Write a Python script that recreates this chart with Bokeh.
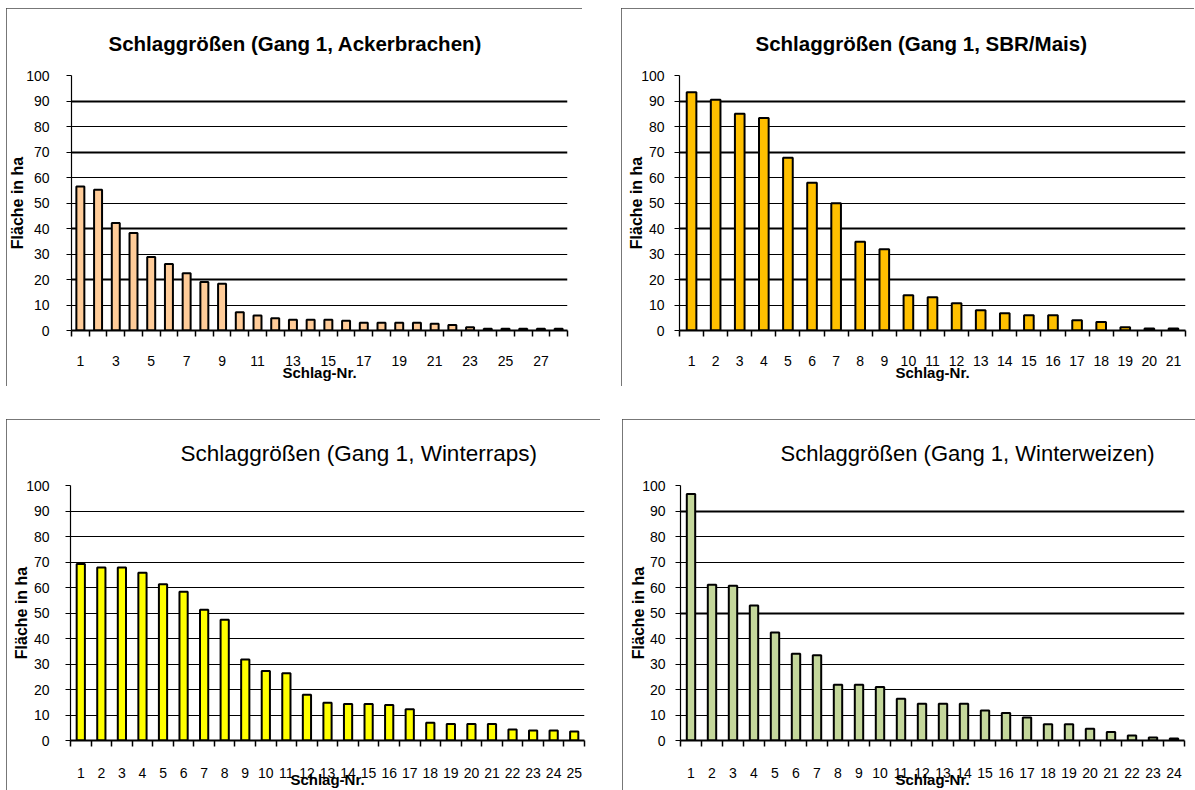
from bokeh.plotting import figure
from bokeh.layouts import column, row, Spacer
from bokeh.models import FixedTicker, Grid
from bokeh.embed import file_html
from bokeh.resources import INLINE

# ---------------- data ----------------
ack_title = "Schlaggrößen (Gang 1, Ackerbrachen)"
ack_values = [56.5, 55.2, 42.2, 38.2, 28.8, 26.1, 22.5, 19.0, 18.3, 7.2, 5.9, 4.8, 4.2, 4.2,
              4.2, 3.8, 3.0, 3.0, 3.0, 3.0, 2.6, 2.2, 1.3, 0.7, 0.7, 0.7, 0.7, 0.7]
ack_tick_labels = [1, 3, 5, 7, 9, 11, 13, 15, 17, 19, 21, 23, 25, 27]

sbr_title = "Schlaggrößen (Gang 1, SBR/Mais)"
sbr_values = [93.4, 90.5, 85.0, 83.3, 67.7, 57.9, 49.9, 34.8, 31.9, 13.8, 13.0, 10.7, 7.9, 6.8,
              6.0, 6.0, 4.0, 3.3, 1.3, 0.8, 0.8]
sbr_tick_labels = list(range(1, 22))

raps_title = "Schlaggrößen (Gang 1, Winterraps)"
raps_values = [69.2, 67.8, 67.8, 65.8, 61.3, 58.3, 51.3, 47.4, 31.8, 27.3, 26.4, 17.9, 14.8,
               14.3, 14.3, 13.9, 12.3, 7.0, 6.5, 6.5, 6.5, 4.3, 3.9, 3.9, 3.5]
raps_tick_labels = list(range(1, 26))

weizen_title = "Schlaggrößen (Gang 1, Winterweizen)"
weizen_values = [96.7, 61.1, 60.7, 52.9, 42.4, 34.0, 33.4, 21.9, 21.9, 21.0, 16.4, 14.4, 14.4,
                 14.4, 11.8, 10.8, 9.0, 6.4, 6.4, 4.6, 3.3, 2.0, 1.2, 0.8]
weizen_tick_labels = list(range(1, 25))

y_label = "Fläche in ha"
x_label = "Schlag-Nr."
y_ticks = [0, 10, 20, 30, 40, 50, 60, 70, 80, 90, 100]

FONT = "Liberation Sans"


def make_panel(title, values, tick_labels, color, width, height, borders,
               title_bold, title_size, title_offset, title_standoff,
               bar_width, thin_grid, thick_grid,
               y_std, y_lab_std, x_std, x_lab_std):
    n = len(values)
    nr = list(range(1, n + 1))
    left, right, top, bottom = borders
    p = figure(width=width, height=height, x_range=(0.5, n + 0.5), y_range=(0, 100),
               output_backend="svg", toolbar_location=None,
               min_border_left=left, min_border_right=right,
               min_border_top=top, min_border_bottom=bottom)
    p.title.text = title
    p.title.align = "left"
    p.title.text_font = FONT
    p.title.text_font_size = f"{title_size}px"
    p.title.text_font_style = "bold" if title_bold else "normal"
    p.title.text_color = "black"
    p.title.offset = title_offset
    p.title.standoff = title_standoff
    p.outline_line_color = None
    p.background_fill_color = "white"
    p.border_fill_color = "white"

    p.vbar(x=nr, top=values, width=bar_width, fill_color=color,
           line_color="black", line_width=2)

    # grid
    p.xgrid.visible = False
    p.ygrid.ticker = FixedTicker(ticks=thin_grid)
    p.ygrid.grid_line_color = "black"
    p.ygrid.grid_line_width = 1
    if thick_grid:
        p.add_layout(Grid(dimension=1, ticker=FixedTicker(ticks=thick_grid),
                          grid_line_color="black", grid_line_width=2.2))

    # y axis
    ya = p.yaxis[0]
    ya.ticker = FixedTicker(ticks=y_ticks)
    ya.axis_line_color = "black"
    ya.axis_line_width = 1.2
    ya.major_tick_line_color = "black"
    ya.major_tick_out = 5
    ya.major_tick_in = 0
    ya.minor_tick_line_color = None
    ya.major_label_standoff = y_std
    ya.major_label_text_font = FONT
    ya.major_label_text_font_size = "14px"
    ya.major_label_text_color = "black"
    ya.axis_label = y_label
    ya.axis_label_text_font = FONT
    ya.axis_label_text_font_size = "16px"
    ya.axis_label_text_font_style = "bold"
    ya.axis_label_text_color = "black"
    ya.axis_label_standoff = y_lab_std

    # x axis: labels at categories, tick marks between categories
    xa = p.xaxis[0]
    xa.ticker = FixedTicker(ticks=tick_labels, minor_ticks=[i + 0.5 for i in range(0, n + 1)])
    xa.axis_line_color = "black"
    xa.axis_line_width = 2
    xa.major_tick_line_color = None
    xa.major_tick_out = 0
    xa.major_tick_in = 0
    xa.minor_tick_line_color = "black"
    xa.minor_tick_line_width = 1.5
    xa.minor_tick_out = 6
    xa.minor_tick_in = 0
    xa.major_label_standoff = x_std
    xa.major_label_text_font = FONT
    xa.major_label_text_font_size = "14px"
    xa.major_label_text_color = "black"
    xa.axis_label = x_label
    xa.axis_label_text_font = FONT
    xa.axis_label_text_font_size = "15px"
    xa.axis_label_text_font_style = "bold"
    xa.axis_label_text_color = "black"
    xa.axis_label_standoff = x_lab_std

    p.styles = {"outline": "2px solid #4a4a4a", "outline-offset": "-2px"}
    return p


p1 = make_panel(ack_title, ack_values, ack_tick_labels, "#FFCC99", 576, 378,
                (62, 15, 67, 56), True, 20.5, 37, 42, 0.45,
                [10, 30, 50, 60, 80], [20, 40, 70, 90], 17, -3, 19, -5)
p2 = make_panel(sbr_title, sbr_values, sbr_tick_labels, "#FFC000", 573, 378,
                (58, 9, 67, 55), True, 20.5, 76, 42, 0.4,
                [10, 30, 50, 60, 80], [20, 40, 70, 90], 10, -7, 19, -5)
p3 = make_panel(raps_title, raps_values, raps_tick_labels, "#FFFF00", 594, 371,
                (64, 16, 66, 49), False, 22.5, 110, 39, 0.4,
                [10, 20, 30, 40, 50, 60, 70, 80, 90], [], 16, -7, 21, -10)
p4 = make_panel(weizen_title, weizen_values, weizen_tick_labels, "#C4D79B", 573, 371,
                (58, 11, 66, 49), False, 22, 100, 39, 0.4,
                [10, 20, 30, 40, 60, 70, 80], [50, 90], 10, -8, 21, -10)

layout = column(
    Spacer(height=8),
    row(Spacer(width=6), p1, Spacer(width=39), p2),
    Spacer(height=33),
    row(Spacer(width=6), p3, Spacer(width=22), p4),
)

open("out.html", "w").write(file_html(layout, INLINE))
